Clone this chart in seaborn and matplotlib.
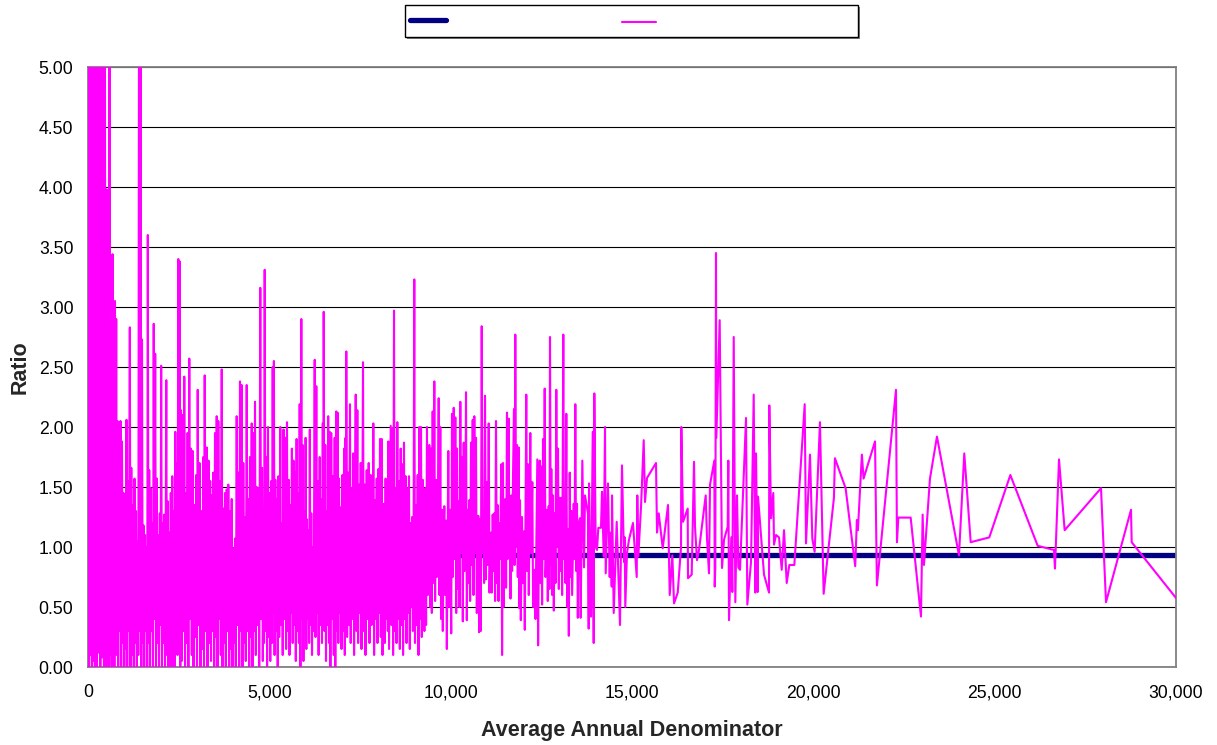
import numpy as np
import pandas as pd
import matplotlib
matplotlib.use("Agg")
import matplotlib.pyplot as plt
from matplotlib.patches import Rectangle
from matplotlib.ticker import FuncFormatter
import seaborn as sns

# ---------------------------------------------------------------------------
# Ratio by average annual denominator, sorted by denominator
# ---------------------------------------------------------------------------
denom_0_2500 = [
    0, 15, 30, 50, 70, 90, 110, 130, 150, 170,
    190, 215, 240, 265, 290, 315, 340, 365, 390, 415,
    440, 465, 483, 515, 529, 551, 565, 593, 615, 634,
    651, 676, 695, 712, 728, 744, 761, 778, 794, 813,
    833, 855, 874, 896, 915, 937, 960, 979, 1001, 1020,
    1042, 1062, 1081, 1103, 1125, 1153, 1172, 1194, 1213, 1241,
    1263, 1282, 1304, 1324, 1346, 1365, 1387, 1412, 1431, 1450,
    1470, 1489, 1508, 1530, 1550, 1572, 1591, 1613, 1632, 1649,
    1668, 1688, 1710, 1732, 1751, 1773, 1792, 1812, 1831, 1853,
    1875, 1897, 1916, 1938, 1958, 1980, 1999, 2018, 2040, 2062,
    2082, 2104, 2123, 2142, 2159, 2178, 2200, 2220, 2242, 2261,
    2283, 2302, 2324, 2344, 2366, 2385, 2407, 2426, 2449, 2468,
    2490, 2509, 2526, 2545,
]
ratio_0_2500 = [
    3.10, 9.5, 0.0, 12.0, 0.10, 7.8, 0.0, 8.6, 0.05, 6.4,
    0.0, 10.3, 0.0, 5.9, 0.12, 7.1, 0.0, 6.8, 0.08, 5.6,
    0.0, 6.2, 0.0, 3.98, 0.3, 2.1, 0.0, 6.3, 0.1, 2.05,
    0.0, 3.44, 0.2, 2.7, 0.0, 3.05, 0.4, 2.90, 0.1, 2.05,
    0.0, 1.72, 0.3, 2.05, 0.0, 1.88, 0.2, 1.45, 0.0, 1.38,
    0.15, 2.06, 0.0, 1.55, 0.3, 2.83, 0.0, 1.66, 0.1, 1.35,
    0.0, 1.57, 0.2, 1.30, 0.0, 1.05, 0.1, 7.0, 0.3, 6.1,
    0.0, 2.73, 0.2, 1.18, 0.0, 1.10, 0.3, 1.0, 0.0, 3.60,
    0.2, 1.64, 0.0, 1.49, 0.3, 1.20, 0.0, 2.86, 0.4, 2.61,
    0.0, 1.57, 0.2, 1.10, 0.0, 1.28, 0.35, 2.51, 0.0, 1.20,
    0.2, 1.27, 0.0, 1.05, 2.39, 0.1, 1.38, 0.0, 1.12, 0.3,
    1.45, 0.0, 1.59, 0.25, 1.30, 0.0, 1.96, 0.4, 1.70, 0.1,
    3.40, 0.6, 3.38, 0.0,
]

denom_2500_5000 = [
    2564, 2586, 2611, 2633, 2655, 2675, 2702, 2724, 2746, 2768,
    2793, 2813, 2840, 2862, 2887, 2909, 2937, 2959, 2983, 3005,
    3025, 3047, 3075, 3102, 3135, 3157, 3179, 3199, 3218, 3240,
    3273, 3295, 3323, 3345, 3369, 3392, 3411, 3433, 3455, 3480,
    3502, 3524, 3549, 3571, 3593, 3618, 3640, 3662, 3687, 3709,
    3731, 3756, 3778, 3800, 3825, 3847, 3869, 3893, 3915, 3938,
    3962, 3984, 4007, 4031, 4053, 4075, 4100, 4122, 4144, 4169,
    4191, 4213, 4238, 4260, 4282, 4307, 4329, 4351, 4376, 4398,
    4420, 4445, 4467, 4489, 4514, 4536, 4558, 4583, 4605, 4627,
    4652, 4674, 4699, 4721, 4751, 4773, 4798, 4820, 4841, 4854,
    4872, 4894, 4916, 4938, 4963, 4985, 5007, 5026,
]
ratio_2500_5000 = [
    2.14, 0.05, 2.10, 0.3, 2.42, 0.0, 1.45, 0.2, 1.95, 0.0,
    2.57, 0.4, 1.82, 0.1, 1.80, 0.0, 1.35, 0.25, 1.60, 0.0,
    2.31, 0.35, 1.70, 0.0, 1.30, 0.15, 1.75, 0.0, 2.43, 0.3,
    1.83, 0.0, 1.72, 0.2, 1.55, 0.05, 1.43, 0.3, 1.62, 0.0,
    1.95, 0.25, 2.09, 0.0, 2.05, 0.4, 1.55, 0.1, 2.48, 0.0,
    1.32, 0.2, 1.45, 0.0, 1.48, 0.3, 1.52, 0.0, 1.30, 0.15,
    1.40, 0.0, 0.99, 0.2, 1.07, 0.0, 2.09, 0.35, 1.62, 0.0,
    2.38, 0.3, 2.35, 0.0, 1.70, 0.2, 1.25, 0.05, 2.35, 0.3,
    1.40, 0.0, 1.75, 0.25, 2.03, 0.0, 1.95, 0.3, 2.21, 0.1,
    1.50, 0.35, 1.49, 0.0, 3.16, 0.4, 1.66, 0.05, 0.9, 0.2,
    3.31, 0.3, 1.75, 0.0, 2.0, 0.25, 1.45, 0.05,
]

denom_5000_7500 = [
    5050, 5074, 5093, 5109, 5126, 5145, 5165, 5187, 5212, 5231,
    5250, 5272, 5302, 5324, 5349, 5369, 5391, 5413, 5440, 5462,
    5487, 5509, 5534, 5556, 5578, 5600, 5622, 5644, 5666, 5688,
    5708, 5730, 5752, 5774, 5796, 5815, 5837, 5857, 5882, 5901,
    5920, 5940, 5962, 5981, 6000, 6020, 6039, 6058, 6077, 6097,
    6116, 6135, 6157, 6177, 6199, 6221, 6251, 6273, 6295, 6315,
    6337, 6359, 6389, 6408, 6430, 6452, 6474, 6486, 6499, 6521,
    6543, 6562, 6584, 6604, 6623, 6645, 6664, 6684, 6706, 6728,
    6755, 6777, 6802, 6819, 6843, 6866, 6882, 6902, 6921, 6943,
    6968, 6990, 7015, 7037, 7062, 7081, 7100, 7111, 7122, 7144,
    7169, 7191, 7224, 7244, 7260, 7282, 7315, 7337, 7362, 7382,
    7404, 7426, 7448, 7473, 7495,
]
ratio_5000_7500 = [
    1.55, 0.2, 2.50, 0.45, 2.55, 0.1, 1.56, 0.3, 1.40, 0.0,
    1.59, 0.25, 2.0, 0.35, 1.20, 0.1, 1.98, 0.4, 1.91, 0.15,
    2.04, 0.3, 1.56, 0.1, 1.35, 0.45, 1.82, 0.2, 1.72, 0.35,
    1.62, 0.05, 1.90, 0.3, 1.45, 0.2, 2.19, 0.0, 2.90, 0.4,
    1.85, 0.05, 1.30, 0.3, 1.91, 0.15, 1.23, 0.4, 1.14, 0.2,
    1.98, 0.35, 1.28, 0.1, 1.0, 0.3, 2.56, 0.25, 2.34, 0.45,
    1.55, 0.1, 1.75, 0.35, 1.40, 0.2, 2.03, 0.5, 2.96, 0.3,
    1.85, 0.05, 1.30, 0.35, 2.09, 0.2, 1.96, 0.0, 1.95, 0.4,
    1.59, 0.1, 1.91, 0.0, 2.13, 0.3, 2.12, 0.2, 1.57, 0.45,
    1.33, 0.15, 1.60, 0.3, 1.82, 0.1, 1.91, 0.6, 2.63, 0.25,
    1.62, 0.35, 2.19, 0.2, 1.49, 0.4, 1.78, 0.1, 1.40, 2.27,
    0.3, 2.14, 0.2, 1.52, 0.45,
]

denom_7500_10000 = [
    7520, 7541, 7564, 7583, 7605, 7630, 7652, 7685, 7707, 7740,
    7762, 7795, 7817, 7842, 7853, 7867, 7889, 7914, 7936, 7961,
    7983, 8005, 8027, 8052, 8074, 8099, 8121, 8140, 8162, 8184,
    8206, 8228, 8253, 8267, 8281, 8302, 8327, 8347, 8369, 8391,
    8413, 8438, 8457, 8485, 8507, 8529, 8551, 8576, 8598, 8622,
    8644, 8666, 8688, 8713, 8735, 8760, 8782, 8804, 8827, 8851,
    8873, 8895, 8915, 8937, 8959, 8978, 8997, 9016, 9044, 9066,
    9091, 9113, 9135, 9157, 9182, 9204, 9229, 9251, 9276, 9300,
    9322, 9347, 9369, 9391, 9411, 9433, 9458, 9480, 9504, 9527,
    9549, 9571, 9596, 9618, 9645, 9670, 9692, 9714, 9736, 9761,
    9783, 9805, 9825, 9847, 9872, 9894, 9913, 9935, 9960, 9990,
]
ratio_7500_10000 = [
    1.70, 0.15, 1.30, 2.54, 0.3, 1.52, 0.1, 1.64, 0.4, 1.70,
    0.2, 1.60, 0.35, 1.25, 0.5, 2.03, 0.1, 1.39, 0.4, 1.57,
    0.2, 1.65, 0.45, 1.90, 0.25, 1.90, 0.1, 0.55, 1.36, 0.2,
    1.57, 0.4, 1.40, 0.3, 1.88, 0.15, 1.25, 2.01, 0.35, 1.99,
    0.1, 2.97, 0.3, 1.49, 0.2, 2.04, 0.4, 1.55, 0.15, 1.82,
    0.35, 1.69, 0.1, 1.87, 0.4, 1.59, 0.2, 1.49, 0.45, 1.59,
    0.15, 1.20, 0.5, 1.25, 0.3, 1.10, 3.23, 0.2, 1.35, 0.35,
    1.60, 0.1, 2.0, 0.4, 2.0, 0.25, 1.56, 0.5, 0.3, 1.49,
    0.35, 2.0, 0.6, 1.40, 1.85, 0.5, 1.82, 0.45, 2.13, 0.7,
    2.38, 0.55, 1.56, 0.75, 1.20, 2.24, 0.6, 2.0, 0.4, 1.31,
    0.3, 1.05, 1.34, 0.6, 1.22, 0.15, 0.9, 1.80, 0.5, 1.31,
]

denom_10000_13500 = [
    10015, 10037, 10059, 10084, 10106, 10128, 10153, 10175, 10197, 10222,
    10244, 10266, 10288, 10313, 10335, 10360, 10382, 10404, 10423, 10445,
    10470, 10492, 10514, 10536, 10561, 10583, 10608, 10630, 10652, 10674,
    10699, 10721, 10740, 10762, 10784, 10809, 10831, 10856, 10878, 10900,
    10922, 10947, 10969, 11002, 11024, 11049, 11071, 11093, 11112, 11134,
    11159, 11181, 11203, 11225, 11250, 11272, 11297, 11319, 11341, 11363,
    11396, 11418, 11443, 11459, 11481, 11506, 11528, 11553, 11575, 11600,
    11613, 11627, 11649, 11672, 11694, 11719, 11746, 11763, 11782, 11804,
    11829, 11851, 11876, 11895, 11912, 11934, 11967, 11989, 12022, 12044,
    12063, 12085, 12107, 12132, 12154, 12196, 12218, 12251, 12273, 12317,
    12339, 12364, 12389, 12411, 12436, 12455, 12477, 12499, 12521, 12546,
    12568, 12593, 12615, 12637, 12656, 12678, 12703, 12723, 12739, 12761,
    12775, 12797, 12822, 12844, 12869, 12891, 12913, 12935, 12960, 12982,
    13006, 13028, 13051, 13073, 13106, 13125, 13145, 13167, 13189, 13211,
    13236, 13258, 13283, 13305, 13327, 13349, 13393, 13415, 13437, 13459,
    13484, 13506, 13533,
]
ratio_10000_13500 = [
    0.28, 2.11, 0.75, 2.16, 0.9, 2.08, 0.45, 1.82, 0.65, 1.38,
    0.5, 2.21, 0.95, 1.75, 0.38, 1.87, 0.8, 1.15, 2.29, 0.39,
    1.31, 0.7, 1.39, 0.55, 1.87, 0.85, 2.06, 0.6, 2.09, 0.95,
    1.91, 0.45, 1.05, 1.26, 0.29, 1.23, 0.3, 2.84, 0.95, 1.15,
    0.7, 2.26, 0.73, 1.54, 0.85, 2.03, 0.62, 1.0, 1.12, 0.62,
    1.27, 0.8, 1.28, 0.55, 2.05, 0.7, 1.35, 0.55, 1.2, 0.9,
    1.69, 0.10, 1.70, 0.50, 1.05, 1.40, 0.66, 2.12, 0.9, 2.07,
    0.95, 1.41, 0.57, 1.43, 0.8, 1.60, 2.15, 0.85, 2.77, 1.0,
    1.85, 0.75, 1.83, 0.49, 1.39, 0.39, 1.25, 0.7, 1.13, 0.31,
    1.2, 2.27, 0.8, 1.69, 0.6, 1.95, 0.95, 1.54, 0.5, 0.81,
    0.4, 1.1, 1.73, 0.18, 1.2, 1.72, 0.7, 1.67, 0.52, 1.90,
    0.9, 2.32, 0.75, 1.0, 1.31, 0.55, 1.34, 0.65, 2.75, 0.85,
    1.65, 0.6, 1.43, 0.47, 1.28, 0.7, 2.31, 1.0, 1.82, 0.65,
    1.41, 0.8, 1.41, 0.6, 2.77, 0.9, 1.36, 0.7, 2.11, 0.5,
    1.15, 0.26, 1.62, 0.75, 1.30, 0.6, 1.36, 0.9, 2.19, 0.8,
    1.36, 0.41, 1.2,
]

denom_13500_19500 = [
    13566, 13585, 13630, 13677, 13704, 13787, 13806, 13815, 13870, 13917,
    13944, 13961, 13999, 14035, 14071, 14145, 14173, 14220, 14256, 14275,
    14338, 14385, 14413, 14441, 14449, 14496, 14578, 14669, 14724, 14780,
    14799, 14815, 14862, 14917, 15027, 15130, 15146, 15174, 15248, 15323,
    15359, 15414, 15662, 15690, 15737, 15847, 15993, 16040, 16112, 16159,
    16261, 16352, 16360, 16407, 16536, 16544, 16646, 16710, 16737, 16792,
    16848, 17032, 17068, 17123, 17151, 17270, 17281, 17297, 17316, 17325,
    17418, 17482, 17537, 17639, 17656, 17675, 17738, 17766, 17805, 17849,
    17896, 17932, 17978, 18144, 18180, 18282, 18356, 18400, 18420, 18466,
    18475, 18640, 18778, 18786, 18833, 18896, 18916, 18971, 19054, 19128,
    19192, 19266, 19338, 19476,
]
ratio_13500_19500 = [
    1.24, 0.41, 1.72, 0.83, 1.43, 1.28, 0.32, 1.53, 0.42, 1.96,
    0.20, 2.28, 1.0, 0.975, 1.16, 1.16, 1.46, 0.92, 2.0, 0.78,
    1.53, 0.75, 1.12, 0.67, 1.43, 0.45, 1.21, 0.35, 1.68, 0.875,
    1.08, 0.50, 0.95, 1.06, 1.20, 0.75, 1.43, 0.92, 1.33, 1.89,
    1.375, 1.575, 1.70, 1.12, 1.28, 0.99, 1.35, 0.60, 0.93, 0.53,
    0.62, 1.0, 2.0, 1.21, 1.32, 0.74, 0.77, 1.71, 1.17, 0.89,
    0.975, 1.43, 1.075, 0.78, 1.52, 1.72, 0.67, 0.83, 3.45, 1.91,
    2.89, 0.825, 1.06, 1.17, 1.72, 0.39, 1.08, 0.625, 2.75, 0.54,
    1.43, 0.83, 0.81, 2.075, 0.52, 0.875, 2.27, 0.62, 1.78, 0.625,
    1.42, 0.77, 0.62, 2.18, 1.24, 1.45, 1.02, 1.10, 1.08, 0.81,
    1.14, 0.70, 0.85, 0.85,
]

denom_19500_30000 = [
    19762, 19798, 19908, 19972, 20036, 20183, 20284, 20568, 20595, 20890,
    21155, 21201, 21229, 21339, 21385, 21701, 21753, 22279, 22306, 22343,
    22684, 22968, 23014, 23050, 23216, 23409, 24016, 24162, 24339, 24852,
    25432, 26186, 26636, 26663, 26774, 26930, 27932, 28070, 28759, 28778,
    30000,
]
ratio_19500_30000 = [
    2.19, 1.03, 1.77, 1.07, 0.96, 2.04, 0.61, 1.41, 1.74, 1.49,
    0.84, 1.225, 1.14, 1.77, 1.57, 1.88, 0.68, 2.31, 1.04, 1.245,
    1.245, 0.42, 1.27, 0.85, 1.57, 1.92, 0.93, 1.78, 1.04, 1.08,
    1.60, 1.01, 0.975, 0.82, 1.73, 1.14, 1.49, 0.54, 1.31, 1.04,
    0.575,
]

# overall average ratio drawn as a reference level
average_ratio = 0.93

x_ticks = [0, 5000, 10000, 15000, 20000, 25000, 30000]
y_ticks = [0.0, 0.5, 1.0, 1.5, 2.0, 2.5, 3.0, 3.5, 4.0, 4.5, 5.0]

# ---------------------------------------------------------------------------
denominator = np.concatenate([
    denom_0_2500, denom_2500_5000, denom_5000_7500, denom_7500_10000,
    denom_10000_13500, denom_13500_19500, denom_19500_30000,
])
ratio = np.concatenate([
    ratio_0_2500, ratio_2500_5000, ratio_5000_7500, ratio_7500_10000,
    ratio_10000_13500, ratio_13500_19500, ratio_19500_30000,
])
df = pd.DataFrame({"Average Annual Denominator": denominator, "Ratio": ratio})

sns.set_style("white")
plt.rcParams["font.family"] = ["Liberation Sans", "DejaVu Sans"]

W, H = 1217, 745
fig = plt.figure(figsize=(W / 100, H / 100), dpi=100)
ax = fig.add_axes([88 / W, 78 / H, 1088 / W, 600 / H])

avg_line = ax.axhline(average_ratio, color="#000080", lw=3.8,
                      solid_capstyle="round", zorder=2)
sns.lineplot(data=df, x="Average Annual Denominator", y="Ratio",
             estimator=None, sort=False, color="#ff00ff", lw=1.5,
             ax=ax, zorder=3)
ratio_line = ax.lines[-1]

ax.set_xlim(0, 30000)
ax.set_ylim(0, 5)
ax.set_xticks(x_ticks)
ax.set_yticks(y_ticks)
ax.xaxis.set_major_formatter(FuncFormatter(lambda v, p: f"{v:,.0f}"))
ax.yaxis.set_major_formatter(FuncFormatter(lambda v, p: f"{v:.2f}"))

ax.yaxis.grid(True, color="black", lw=0.8)
ax.xaxis.grid(False)
for side in ["left", "right", "top", "bottom"]:
    ax.spines[side].set_visible(True)
    ax.spines[side].set_color("#808080")
    ax.spines[side].set_linewidth(1.3)

ax.tick_params(axis="both", direction="out", length=4, width=0.9,
               color="#808080", labelsize=12.7, labelcolor="black")
ax.tick_params(axis="y", pad=6.5)
ax.tick_params(axis="x", pad=8.5)

ax.set_xlabel("Average Annual Denominator", fontsize=15.5,
              fontweight="bold", labelpad=13.5)
ax.set_ylabel("Ratio", fontsize=15.5, fontweight="bold", labelpad=6)

# legend box with a small drop shadow, and one unlabelled key per series
box = (405 / W, 1 - 37 / H, 453 / W, 32 / H)
fig.patches.append(Rectangle((box[0] + 2 / W, box[1] - 2 / H), box[2], box[3],
                             transform=fig.transFigure, facecolor="#808080",
                             edgecolor="none", zorder=1))
fig.patches.append(Rectangle(box[:2], box[2], box[3],
                             transform=fig.transFigure, facecolor="white",
                             edgecolor="black", lw=1.0, zorder=1.1))
for handle, left, top, hlen in [(avg_line, 410, 22, 2.05),
                                (ratio_line, 622, 24, 1.9)]:
    fig.legend([handle], [""], loc="center left",
               bbox_to_anchor=(left / W, 1 - top / H), frameon=False,
               borderpad=0, borderaxespad=0, handletextpad=0,
               handlelength=hlen, fontsize=12.7)

fig.savefig("out.png", dpi=100, facecolor="white")
